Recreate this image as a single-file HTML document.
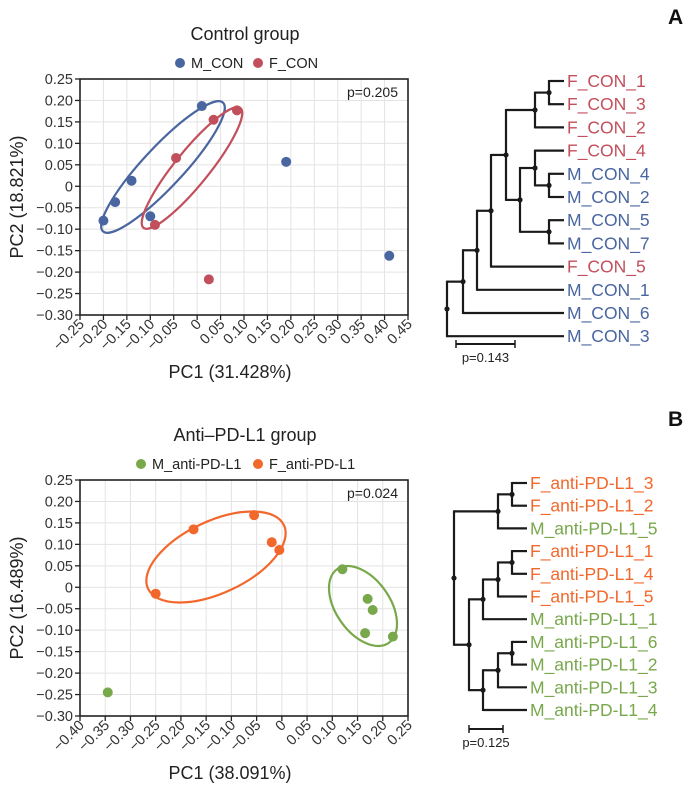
<!DOCTYPE html>
<html><head><meta charset="utf-8">
<style>
body{margin:0;background:#fff;}
svg{display:block;font-family:"Liberation Sans Narrow","Liberation Sans",sans-serif;}
</style></head>
<body>
<svg id="fig" width="689" height="792"></svg>
<script>
// ---- Panel A data ----
const aXTicks=[-0.25,-0.20,-0.15,-0.10,-0.05,0,0.05,0.10,0.15,0.20,0.25,0.30,0.35,0.40,0.45];
const aYTicks=[0.25,0.20,0.15,0.10,0.05,0,-0.05,-0.10,-0.15,-0.20,-0.25,-0.30];
const aMx=[-0.20,-0.175,-0.14,-0.10,0.01,0.19,0.41];
const aMy=[-0.08,-0.037,0.013,-0.07,0.187,0.057,-0.162];
const aFx=[-0.09,-0.045,0.035,0.085,0.025];
const aFy=[-0.09,0.066,0.155,0.177,-0.217];
// ---- Panel B data ----
const bXTicks=[-0.40,-0.35,-0.30,-0.25,-0.20,-0.15,-0.10,-0.05,0,0.05,0.10,0.15,0.20,0.25];
const bYTicks=[0.25,0.20,0.15,0.10,0.05,0,-0.05,-0.10,-0.15,-0.20,-0.25,-0.30];
const bMx=[-0.345,0.12,0.17,0.18,0.165,0.22];
const bMy=[-0.245,0.042,-0.027,-0.053,-0.107,-0.115];
const bFx=[-0.25,-0.175,-0.055,-0.02,-0.005];
const bFy=[-0.015,0.135,0.168,0.105,0.087];

const NS="http://www.w3.org/2000/svg";
const svg=document.getElementById('fig');
function el(tag,attrs,parent,text){const e=document.createElementNS(NS,tag);for(const k in attrs)e.setAttribute(k,attrs[k]);if(text!==undefined)e.textContent=text;(parent||svg).appendChild(e);return e;}
function fmt(v){if(Math.abs(v)<1e-9)return '0';return (v<0?'\u2212':'')+Math.abs(v).toFixed(2);}

function scatter(o){
  const g=el('g',{});
  
  
  const L=80,R=408,T=o.top,B=o.top+236;
  const xmin=o.xt[0],xmax=o.xt[o.xt.length-1];
  const ymax=o.yt[0],ymin=o.yt[o.yt.length-1];
  const X=v=>L+(v-xmin)/(xmax-xmin)*(R-L);
  const Y=v=>T+(ymax-v)/(ymax-ymin)*(B-T);
  o.xt.forEach(v=>{el('line',{x1:X(v),x2:X(v),y1:T,y2:B,stroke:'#e3e3e3','stroke-width':1},g);});
  o.yt.forEach(v=>{el('line',{x1:L,x2:R,y1:Y(v),y2:Y(v),stroke:'#e3e3e3','stroke-width':1},g);});
  const fr=el('rect',{x:L,y:T,width:R-L,height:B-T,fill:'none',stroke:'#222','stroke-width':1.6},g);
  
  o.yt.forEach(v=>{
    el('line',{x1:L-5,x2:L,y1:Y(v),y2:Y(v),stroke:'#222','stroke-width':1.3},g);
    const t=el('text',{x:L-7,y:Y(v)+5,'text-anchor':'end','font-size':14.5,fill:'#333'},g,fmt(v));
    
  });
  o.xt.forEach(v=>{
    el('line',{x1:X(v),x2:X(v),y1:B,y2:B+5,stroke:'#222','stroke-width':1.3},g);
    const t=el('text',{x:X(v)+5,y:B+10,'text-anchor':'end','font-size':14.5,fill:'#333',transform:`rotate(-45 ${X(v)+5} ${B+10})`},g,fmt(v));
    
  });
  o.ell.forEach(e=>{
    const c=el('ellipse',{cx:e[0],cy:e[1],rx:e[2],ry:e[3],transform:`rotate(${e[4]} ${e[0]} ${e[1]})`,fill:'none',stroke:e[5],'stroke-width':2.2},g);
    
  });
  o.series.forEach(s=>{
    s.x.forEach((v,i)=>{
      const p=el('circle',{cx:X(v),cy:Y(s.y[i]),r:5,fill:s.c},g);
      
      
    });
  });
  const pt=el('text',{x:R-10,y:T+18,'text-anchor':'end','font-size':14,fill:'#222'},g,o.p);
  
  const yt=el('text',{x:0,y:0,'text-anchor':'middle','font-size':18,fill:'#222',transform:`translate(23 ${(T+B)/2}) rotate(-90)`},g,o.ylab);
  
  const xt=el('text',{x:230,y:B+63,'text-anchor':'middle','font-size':18,fill:'#222'},g,o.xlab);
  
  const ti=el('text',{x:245,y:T-39,'text-anchor':'middle','font-size':18,fill:'#222'},g,o.title);
  
  let lx=o.legx;
  o.series.forEach(s=>{
    const lc=el('circle',{cx:lx,cy:T-16,r:5,fill:s.c},g);
    
    const lt=el('text',{x:lx+11,y:T-11,'font-size':14.5,fill:'#222'},g,s.n);
    
    lx+=s.w;
  });
}
const BLUE='#4a66a0',RED='#c2505c',GREEN='#78a84b',ORANGE='#f2682c';
scatter({name:'control-pca-plot',top:79,xt:aXTicks,yt:aYTicks,p:'p=0.205',title:'Control group',xlab:'PC1 (31.428%)',ylab:'PC2 (18.821%)',legx:180,
 series:[{n:'M_CON',x:aMx,y:aMy,c:BLUE,w:78},{n:'F_CON',x:aFx,y:aFy,c:RED,w:80}],
 ell:[[163,167,88,20,-47,BLUE],[192,168,77,17,-51,RED]]});
scatter({name:'anti-pd-l1-pca-plot',top:480,xt:bXTicks,yt:bYTicks,p:'p=0.024',title:'Anti\u2013PD-L1 group',xlab:'PC1 (38.091%)',ylab:'PC2 (16.489%)',legx:141,
 series:[{n:'M_anti-PD-L1',x:bMx,y:bMy,c:GREEN,w:117},{n:'F_anti-PD-L1',x:bFx,y:bFy,c:ORANGE,w:110}],
 ell:[[216,557,75,36,-25,ORANGE],[363,606,45,27,55,GREEN]]});

// ---- Dendrograms ----
function tree(o){
  const g=el('g',{});
  
  
  const ys={};
  o.leaves.forEach((l,i)=>{ys[l[0]]=o.y0+i*o.dy;
    const t=el('text',{x:o.lx,y:o.y0+i*o.dy+6,'font-size':17.5,fill:l[1]},g,l[0]);
    
  });
  function draw(n){
    if(typeof n==='string')return {y:ys[n],x:o.leafX};
    const kids=n.c.map(draw);
    const yTop=Math.min(...kids.map(k=>k.y)),yBot=Math.max(...kids.map(k=>k.y));
    kids.forEach(k=>el('line',{x1:n.x,x2:k.x,y1:k.y,y2:k.y,stroke:'#1a1a1a','stroke-width':2.2},g));
    el('line',{x1:n.x,x2:n.x,y1:yTop-1,y2:yBot+1,stroke:'#1a1a1a','stroke-width':2.2},g);
    const y=(yTop+yBot)/2;
    const d=el('circle',{cx:n.x,cy:y,r:2.6,fill:'#1a1a1a'},g);
    
    return {x:n.x,y:y};
  }
  const r=draw(o.root);
  el('line',{x1:r.x-1,x2:r.x,y1:r.y,y2:r.y,stroke:'#1a1a1a','stroke-width':2.2},g);
  const sb=el('g',{},g);
  
  el('line',{x1:o.sb[0],x2:o.sb[1],y1:o.sb[2],y2:o.sb[2],stroke:'#1a1a1a','stroke-width':2},sb);
  el('line',{x1:o.sb[0],x2:o.sb[0],y1:o.sb[2]-4,y2:o.sb[2]+4,stroke:'#1a1a1a','stroke-width':1.5},sb);
  el('line',{x1:o.sb[1],x2:o.sb[1],y1:o.sb[2]-4,y2:o.sb[2]+4,stroke:'#1a1a1a','stroke-width':1.5},sb);
  el('text',{x:(o.sb[0]+o.sb[1])/2,y:o.sb[2]+18,'text-anchor':'middle','font-size':13,fill:'#222'},sb,o.sbl);
  const pl=el('text',{x:668,y:o.letterY,'font-size':21,'font-weight':'bold',fill:'#111','font-family':'Liberation Sans, sans-serif'},g,o.letter);
  
}
tree({name:'control-dendrogram',y0:81,dy:23.2,lx:567,leafX:564,letter:'A',letterY:24,
 leaves:[['F_CON_1',RED],['F_CON_3',RED],['F_CON_2',RED],['F_CON_4',RED],['M_CON_4',BLUE],['M_CON_2',BLUE],['M_CON_5',BLUE],['M_CON_7',BLUE],['F_CON_5',RED],['M_CON_1',BLUE],['M_CON_6',BLUE],['M_CON_3',BLUE]],
 root:{x:447,c:[{x:463,c:[{x:477,c:[{x:491,c:[{x:506,c:[{x:535,c:[{x:549,c:['F_CON_1','F_CON_3']},'F_CON_2']},{x:520,c:[{x:535,c:['F_CON_4',{x:549,c:['M_CON_4','M_CON_2']}]},{x:549,c:['M_CON_5','M_CON_7']}]}]},'F_CON_5']},'M_CON_1']},'M_CON_6']},'M_CON_3']},
 sb:[456,515,344],sbl:'p=0.143'});
tree({name:'anti-pd-l1-dendrogram',y0:483,dy:22.7,lx:530,leafX:527,letter:'B',letterY:426,
 leaves:[['F_anti-PD-L1_3',ORANGE],['F_anti-PD-L1_2',ORANGE],['M_anti-PD-L1_5',GREEN],['F_anti-PD-L1_1',ORANGE],['F_anti-PD-L1_4',ORANGE],['F_anti-PD-L1_5',ORANGE],['M_anti-PD-L1_1',GREEN],['M_anti-PD-L1_6',GREEN],['M_anti-PD-L1_2',GREEN],['M_anti-PD-L1_3',GREEN],['M_anti-PD-L1_4',GREEN]],
 root:{x:454,c:[{x:498,c:[{x:512,c:['F_anti-PD-L1_3','F_anti-PD-L1_2']},'M_anti-PD-L1_5']},{x:469,c:[{x:483,c:[{x:498,c:[{x:512,c:['F_anti-PD-L1_1','F_anti-PD-L1_4']},'F_anti-PD-L1_5']},'M_anti-PD-L1_1']},{x:483,c:[{x:498,c:[{x:512,c:['M_anti-PD-L1_6','M_anti-PD-L1_2']},'M_anti-PD-L1_3']},'M_anti-PD-L1_4']}]}]},
 sb:[469,503,729],sbl:'p=0.125'});
</script>
</body></html>
